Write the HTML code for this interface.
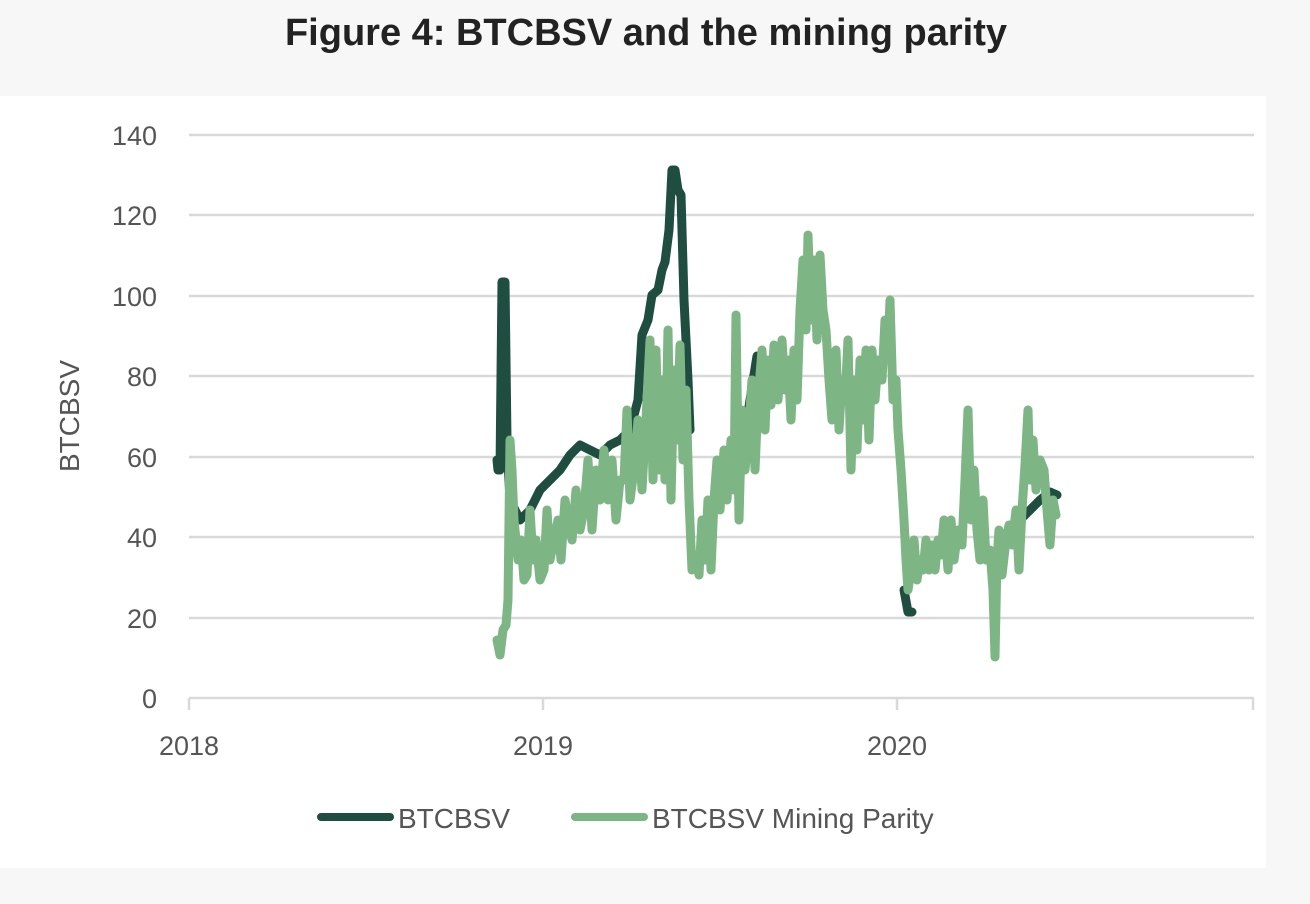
<!DOCTYPE html>
<html><head><meta charset="utf-8"><style>
html,body{margin:0;padding:0;background:#f7f7f7;}
svg{display:block}
</style></head><body>
<svg width="1310" height="904" xmlns="http://www.w3.org/2000/svg" font-family="Liberation Sans, sans-serif">
<rect width="1310" height="904" fill="#f7f7f7"/>
<rect x="0" y="96" width="1266" height="772" fill="#ffffff"/>
<text x="646" y="45" text-anchor="middle" font-size="38" font-weight="bold" fill="#222">Figure 4: BTCBSV and the mining parity</text>
<g stroke="#d9d9d9" stroke-width="2.5">
<line x1="189" y1="135" x2="1254" y2="135"/>
<line x1="189" y1="215" x2="1254" y2="215"/>
<line x1="189" y1="296" x2="1254" y2="296"/>
<line x1="189" y1="376" x2="1254" y2="376"/>
<line x1="189" y1="457" x2="1254" y2="457"/>
<line x1="189" y1="537" x2="1254" y2="537"/>
<line x1="189" y1="618" x2="1254" y2="618"/>
<line x1="189" y1="698" x2="1254" y2="698"/>
<line x1="189" y1="698" x2="189" y2="710"/>
<line x1="543" y1="698" x2="543" y2="710"/>
<line x1="897" y1="698" x2="897" y2="710"/>
<line x1="1253" y1="698" x2="1253" y2="710"/>
</g>
<g font-size="27" fill="#555" text-anchor="end">
<text x="157" y="145">140</text><text x="157" y="225">120</text><text x="157" y="306">100</text>
<text x="157" y="386">80</text><text x="157" y="467">60</text><text x="157" y="547">40</text>
<text x="157" y="628">20</text><text x="157" y="708">0</text>
</g>
<g font-size="27" fill="#555" text-anchor="middle">
<text x="189" y="755">2018</text><text x="543" y="755">2019</text><text x="897" y="755">2020</text>
</g>
<text transform="translate(79,416) rotate(-90)" font-size="28" fill="#555" text-anchor="middle">BTCBSV</text>
<g fill="none" stroke-linejoin="round" stroke-linecap="round" stroke-width="9">
<polyline stroke="#1f4e40" points="497,460 498,470 500,470 502,282 505,282 507,440 510,500 520,520 530,510 540,490 550,480 560,470 570,455 580,445 590,450 600,455 610,445 620,440 630,430 638,400 642,335 648,320 652,295 658,290 662,270 665,262 669,230 672,170 675,170 678,190 681,195 684,300 688,380 690,430"/>
<polyline stroke="#1f4e40" points="744,440 750,400 757,356 760,360"/>
<polyline stroke="#1f4e40" points="904,590 908,612 912,612"/>
<polyline stroke="#1f4e40" points="935,555 940,545"/>
<polyline stroke="#1f4e40" points="1020,520 1030,510 1040,500 1050,492 1057,495"/>
<polyline stroke="#7db584" points="497,640 500,655 503,630 506,625 508,600 510,440 512,470 514,520 518,560 521,540 524,580 527,575 530,510 533,560 536,540 540,580 544,570 547,510 550,560 554,540 558,520 561,560 565,500 568,520 572,540 576,490 580,530 584,510 588,460 592,530 596,470 600,500 604,450 608,500 612,460 616,520 620,480 624,480 627,410 630,500 634,470 638,420 642,490 646,420 650,340 653,480 656,350 659,470 662,380 665,480 668,330 671,500 674,370 677,440 680,345 683,460 686,390 689,500 692,570 695,555 699,575 702,520 705,560 708,500 711,570 714,500 717,460 720,510 724,450 727,500 731,440 734,490 736,315 739,520 742,410 745,470 748,440 752,380 755,470 758,400 762,350 765,430 768,360 771,405 774,345 778,400 782,340 785,390 788,360 791,420 794,350 797,400 800,310 803,260 806,330 808,235 811,320 814,260 817,340 820,255 823,310 826,330 829,380 832,420 836,350 839,430 842,380 845,400 848,340 851,470 854,380 857,450 860,360 863,420 866,350 869,440 872,350 875,400 878,360 882,380 885,320 888,350 890,300 893,400 896,380 898,430 901,470 904,520 906,560 908,590 911,570 914,540 917,580 920,560 923,570 926,540 929,570 932,545 935,570 938,540 941,555 944,520 948,570 951,520 954,560 958,530 962,545 965,480 968,410 971,520 974,470 977,530 980,560 983,500 986,560 990,550 993,590 995,657 997,560 999,530 1002,575 1006,540 1009,525 1012,545 1016,510 1019,570 1022,510 1025,465 1028,410 1030,480 1033,440 1036,490 1040,460 1044,470 1047,510 1050,545 1053,500 1056,515"/>
</g>
<line x1="321" y1="817" x2="390" y2="817" stroke="#1f4e40" stroke-width="8" stroke-linecap="round"/>
<text x="398" y="828" font-size="28" fill="#555">BTCBSV</text>
<line x1="575" y1="817" x2="644" y2="817" stroke="#7db584" stroke-width="8" stroke-linecap="round"/>
<text x="652" y="828" font-size="28" fill="#555">BTCBSV Mining Parity</text>
</svg>
</body></html>
